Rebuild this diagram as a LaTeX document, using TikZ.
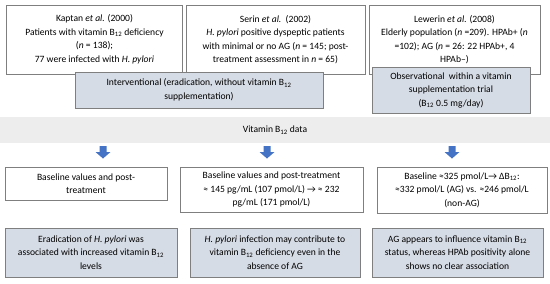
\documentclass[tikz,border=0pt]{standalone}
\usepackage{fontspec}
\setmainfont{Carlito}
\definecolor{boxgray}{HTML}{D6DCE5}
\definecolor{bandgray}{HTML}{EDEDED}
\definecolor{edgegray}{HTML}{7F7F7F}
\definecolor{arrowblue}{HTML}{4472C4}
\newcommand{\Bt}{B\textsubscript{12}}
\begin{document}
\begin{tikzpicture}[x=1pt,y=-1pt,
    font=\fontsize{9.6}{13.5}\selectfont,
    studybox/.style={draw=edgegray, fill=white, rectangle, align=center, inner sep=1pt},
    designbox/.style={draw=edgegray, fill=boxgray, rectangle, align=center, inner sep=1pt},
    resultbox/.style={draw=edgegray, fill=white, rectangle, align=center, inner sep=1pt},
    findbox/.style={draw=edgegray, fill=boxgray, rectangle, align=center, inner sep=1pt},
    databand/.style={fill=bandgray, rectangle, inner sep=0pt},
    downarrow/.pic={\fill[arrowblue] (-3.5,-6) -- (3.5,-6) -- (3.5,0) -- (7.5,0) -- (0,6.5) -- (-7.5,0) -- (-3.5,0) -- cycle;}]
    \useasboundingbox (0,0) rectangle (550,284);

    % studies
    \node (kaptan) [studybox, minimum width=176, minimum height=69] at (94.5,39.5)
        {Kaptan \textit{et al.} (2000)\\Patients with vitamin \Bt{} deficiency\\(\textit{n} = 138);\\77 were infected with \textit{H. pylori}};
    \node (serin) [studybox, minimum width=179, minimum height=69] at (275.5,39.5)
        {Serin \textit{et al.}\ \ (2002)\\\textit{H. pylori} positive dyspeptic patients\\with minimal or no AG (\textit{n} = 145; post-\\treatment assessment in \textit{n} = 65)};
    \node (lewerin) [studybox, minimum width=171, minimum height=69] at (454.5,39.5)
        {Lewerin \textit{et al.} (2008)\\Elderly population (\textit{n} =209). HPAb+ (\textit{n}\\{}=102); AG (\textit{n} = 26: 22 HPAb+, 4\\HPAb–)};

    % study design
    \node (interv) [designbox, minimum width=248, minimum height=36] at (199,90)
        {Interventional (eradication, without vitamin \Bt\\supplementation)};
    \node (observ) [designbox, minimum width=158, minimum height=46] at (451,90)
        {Observational\ \ within a vitamin\\supplementation trial\\(\Bt{} 0.5 mg/day)};

    \node (vitdata) [databand, minimum width=550, minimum height=26] at (275,130) {Vitamin \Bt{} data};

    \pic at (103,152) {downarrow};
    \pic at (267,152) {downarrow};
    \pic at (452,152) {downarrow};

    % values
    \node (valA) [resultbox, minimum width=162, minimum height=33] at (86,183.5)
        {Baseline values and post-\\treatment};
    \node (valB) [resultbox, minimum width=183, minimum height=45] at (271.5,189.5)
        {Baseline values and post-treatment\\≈ 145 pg/mL (107 pmol/L) → ≈ 232\\pg/mL (171 pmol/L)};
    \node (valC) [resultbox, minimum width=170, minimum height=46] at (462,190)
        {Baseline ≈325 pmol/L→ Δ\Bt:\\≈332 pmol/L (AG) vs. ≈246 pmol/L\\(non-AG)};

    % findings
    \node (findA) [findbox, minimum width=172, minimum height=49] at (91,252.5)
        {Eradication of \textit{H. pylori} was\\associated with increased vitamin \Bt\\levels};
    \node (findB) [findbox, minimum width=170, minimum height=49] at (275,252.5)
        {\textit{H. pylori} infection may contribute to\\vitamin \Bt{} deficiency even in the\\absence of AG};
    \node (findC) [findbox, minimum width=171, minimum height=49] at (457.5,252.5)
        {AG appears to influence vitamin \Bt\\status, whereas HPAb positivity alone\\shows no clear association};
\end{tikzpicture}
\end{document}
